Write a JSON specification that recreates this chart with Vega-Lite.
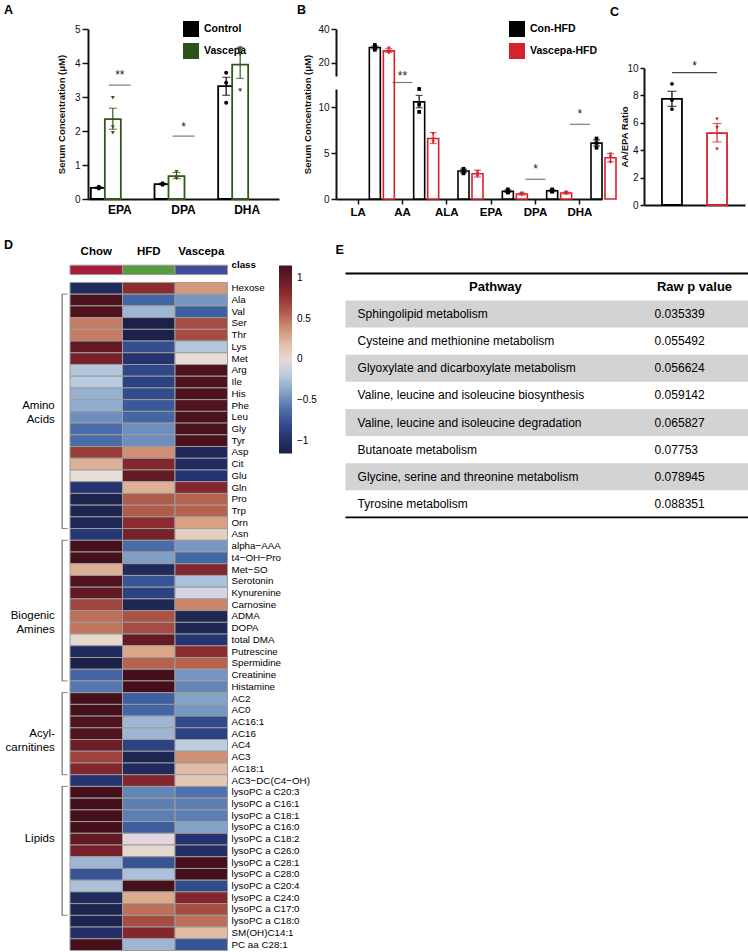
{
  "$schema": "https://vega.github.io/schema/vega-lite/v6.json",
  "padding": {"left": 4, "top": 3, "right": 0, "bottom": 0},
  "config": {
    "font": "Liberation Sans",
    "view": {"stroke": null},
    "axis": {"grid": false, "labelOverlap": false, "labelColor": "#111", "titleColor": "#111", "domainColor": "#111", "tickColor": "#111", "labelFont": "Liberation Sans", "titleFont": "Liberation Sans"},
    "title": {"fontSize": 12.5, "fontWeight": "bold", "anchor": "start", "frame": "group", "color": "#000"},
    "legend": {"labelFont": "Liberation Sans"}
  },
  "datasets": {
    "aBars": [
      {"fa": "EPA", "grp": "Control", "mean": 0.33, "lo": 0.31, "hi": 0.35},
      {"fa": "EPA", "grp": "Vascepa", "mean": 2.35, "lo": 2.05, "hi": 2.67},
      {"fa": "DPA", "grp": "Control", "mean": 0.44, "lo": 0.42, "hi": 0.46},
      {"fa": "DPA", "grp": "Vascepa", "mean": 0.67, "lo": 0.6, "hi": 0.78},
      {"fa": "DHA", "grp": "Control", "mean": 3.32, "lo": 3.05, "hi": 3.58},
      {"fa": "DHA", "grp": "Vascepa", "mean": 3.95, "lo": 3.55, "hi": 4.45}
    ],
    "aPts": [
      {"fa": "EPA", "grp": "Control", "val": 0.36}, {"fa": "EPA", "grp": "Control", "val": 0.34}, {"fa": "EPA", "grp": "Control", "val": 0.31},
      {"fa": "EPA", "grp": "Vascepa", "val": 2.98}, {"fa": "EPA", "grp": "Vascepa", "val": 2.12}, {"fa": "EPA", "grp": "Vascepa", "val": 1.95},
      {"fa": "DPA", "grp": "Control", "val": 0.46}, {"fa": "DPA", "grp": "Control", "val": 0.44}, {"fa": "DPA", "grp": "Control", "val": 0.42},
      {"fa": "DPA", "grp": "Vascepa", "val": 0.8}, {"fa": "DPA", "grp": "Vascepa", "val": 0.63}, {"fa": "DPA", "grp": "Vascepa", "val": 0.6},
      {"fa": "DHA", "grp": "Control", "val": 3.71}, {"fa": "DHA", "grp": "Control", "val": 3.42}, {"fa": "DHA", "grp": "Control", "val": 2.83},
      {"fa": "DHA", "grp": "Vascepa", "val": 4.44}, {"fa": "DHA", "grp": "Vascepa", "val": 4.26}, {"fa": "DHA", "grp": "Vascepa", "val": 3.2}
    ],
    "aSig": [
      {"fa": "EPA", "line": 3.35, "star": 3.75, "label": "**"},
      {"fa": "DPA", "line": 1.85, "star": 2.22, "label": "*"}
    ],
    "bBars": [
      {"fa": "LA", "grp": "Con-HFD", "mean": 29.0, "lo": 28.1, "hi": 29.9},
      {"fa": "LA", "grp": "Vascepa-HFD", "mean": 27.0, "lo": 26.1, "hi": 28.3},
      {"fa": "AA", "grp": "Con-HFD", "mean": 10.6, "lo": 9.95, "hi": 11.3},
      {"fa": "AA", "grp": "Vascepa-HFD", "mean": 6.6, "lo": 6.05, "hi": 7.25},
      {"fa": "ALA", "grp": "Con-HFD", "mean": 3.05, "lo": 2.85, "hi": 3.25},
      {"fa": "ALA", "grp": "Vascepa-HFD", "mean": 2.75, "lo": 2.4, "hi": 3.15},
      {"fa": "EPA", "grp": "Con-HFD", "mean": 0.85, "lo": 0.72, "hi": 1.0},
      {"fa": "EPA", "grp": "Vascepa-HFD", "mean": 0.55, "lo": 0.45, "hi": 0.65},
      {"fa": "DPA", "grp": "Con-HFD", "mean": 0.9, "lo": 0.8, "hi": 1.0},
      {"fa": "DPA", "grp": "Vascepa-HFD", "mean": 0.65, "lo": 0.55, "hi": 0.75},
      {"fa": "DHA", "grp": "Con-HFD", "mean": 6.1, "lo": 5.8, "hi": 6.45},
      {"fa": "DHA", "grp": "Vascepa-HFD", "mean": 4.5, "lo": 4.05, "hi": 4.95}
    ],
    "bPts": [
      {"fa": "LA", "grp": "Con-HFD", "val": 30.5}, {"fa": "LA", "grp": "Con-HFD", "val": 29.0}, {"fa": "LA", "grp": "Con-HFD", "val": 27.6},
      {"fa": "LA", "grp": "Vascepa-HFD", "val": 28.6}, {"fa": "LA", "grp": "Vascepa-HFD", "val": 26.7}, {"fa": "LA", "grp": "Vascepa-HFD", "val": 25.8},
      {"fa": "AA", "grp": "Con-HFD", "val": 12.0}, {"fa": "AA", "grp": "Con-HFD", "val": 10.3}, {"fa": "AA", "grp": "Con-HFD", "val": 9.5},
      {"fa": "AA", "grp": "Vascepa-HFD", "val": 7.1}, {"fa": "AA", "grp": "Vascepa-HFD", "val": 6.5}, {"fa": "AA", "grp": "Vascepa-HFD", "val": 6.2},
      {"fa": "ALA", "grp": "Con-HFD", "val": 3.3}, {"fa": "ALA", "grp": "Con-HFD", "val": 3.05}, {"fa": "ALA", "grp": "Con-HFD", "val": 2.8},
      {"fa": "ALA", "grp": "Vascepa-HFD", "val": 3.0}, {"fa": "ALA", "grp": "Vascepa-HFD", "val": 2.75}, {"fa": "ALA", "grp": "Vascepa-HFD", "val": 2.5},
      {"fa": "EPA", "grp": "Con-HFD", "val": 1.05}, {"fa": "EPA", "grp": "Con-HFD", "val": 0.8}, {"fa": "EPA", "grp": "Con-HFD", "val": 0.7},
      {"fa": "EPA", "grp": "Vascepa-HFD", "val": 0.65}, {"fa": "EPA", "grp": "Vascepa-HFD", "val": 0.55}, {"fa": "EPA", "grp": "Vascepa-HFD", "val": 0.45},
      {"fa": "DPA", "grp": "Con-HFD", "val": 1.05}, {"fa": "DPA", "grp": "Con-HFD", "val": 0.85}, {"fa": "DPA", "grp": "Con-HFD", "val": 0.8},
      {"fa": "DPA", "grp": "Vascepa-HFD", "val": 0.75}, {"fa": "DPA", "grp": "Vascepa-HFD", "val": 0.65}, {"fa": "DPA", "grp": "Vascepa-HFD", "val": 0.55},
      {"fa": "DHA", "grp": "Con-HFD", "val": 6.6}, {"fa": "DHA", "grp": "Con-HFD", "val": 6.1}, {"fa": "DHA", "grp": "Con-HFD", "val": 5.6},
      {"fa": "DHA", "grp": "Vascepa-HFD", "val": 4.9}, {"fa": "DHA", "grp": "Vascepa-HFD", "val": 4.6}, {"fa": "DHA", "grp": "Vascepa-HFD", "val": 4.0}
    ],
    "bSig": [
      {"fa": "AA", "line": 12.005, "star": 13.6, "label": "**"},
      {"fa": "DPA", "line": 2.15, "star": 3.6, "label": "*"},
      {"fa": "DHA", "line": 8.15, "star": 9.6, "label": "*"}
    ],
    "cBars": [
      {"grp": "Con-HFD", "mean": 7.75, "lo": 7.2, "hi": 8.3},
      {"grp": "Vascepa-HFD", "mean": 5.25, "lo": 4.6, "hi": 5.95}
    ],
    "cPts": [
      {"grp": "Con-HFD", "val": 8.85}, {"grp": "Con-HFD", "val": 7.66}, {"grp": "Con-HFD", "val": 7.0},
      {"grp": "Vascepa-HFD", "val": 6.27}, {"grp": "Vascepa-HFD", "val": 5.64}, {"grp": "Vascepa-HFD", "val": 4.08}
    ],
    "heat": [
      {"m": "Hexose", "Chow": -1.05, "HFD": 0.8, "Vascepa": 0.35},
      {"m": "Ala", "Chow": 1.12, "HFD": -0.65, "Vascepa": -0.45},
      {"m": "Val", "Chow": 1.1, "HFD": -0.3, "Vascepa": -0.68},
      {"m": "Ser", "Chow": 0.45, "HFD": -1.15, "Vascepa": 0.65},
      {"m": "Thr", "Chow": 0.45, "HFD": -1.15, "Vascepa": 0.65},
      {"m": "Lys", "Chow": 1.0, "HFD": -0.78, "Vascepa": -0.22},
      {"m": "Met", "Chow": 0.9, "HFD": -0.95, "Vascepa": 0.05},
      {"m": "Arg", "Chow": -0.22, "HFD": -0.82, "Vascepa": 1.1},
      {"m": "Ile", "Chow": -0.2, "HFD": -0.85, "Vascepa": 1.1},
      {"m": "His", "Chow": -0.33, "HFD": -0.8, "Vascepa": 1.1},
      {"m": "Phe", "Chow": -0.35, "HFD": -0.72, "Vascepa": 1.1},
      {"m": "Leu", "Chow": -0.48, "HFD": -0.65, "Vascepa": 1.12},
      {"m": "Gly", "Chow": -0.62, "HFD": -0.48, "Vascepa": 1.12},
      {"m": "Tyr", "Chow": -0.62, "HFD": -0.48, "Vascepa": 1.12},
      {"m": "Asp", "Chow": 0.72, "HFD": 0.38, "Vascepa": -1.08},
      {"m": "Cit", "Chow": 0.25, "HFD": 0.85, "Vascepa": -1.05},
      {"m": "Glu", "Chow": 0.05, "HFD": 1.0, "Vascepa": -0.95},
      {"m": "Gln", "Chow": -0.95, "HFD": 0.25, "Vascepa": 0.85},
      {"m": "Pro", "Chow": -1.12, "HFD": 0.58, "Vascepa": 0.55},
      {"m": "Trp", "Chow": -1.12, "HFD": 0.58, "Vascepa": 0.55},
      {"m": "Orn", "Chow": -1.08, "HFD": 0.8, "Vascepa": 0.32},
      {"m": "Asn", "Chow": -0.92, "HFD": 0.9, "Vascepa": 0.12},
      {"m": "alpha−AAA", "Chow": 1.15, "HFD": -0.62, "Vascepa": -0.45},
      {"m": "t4−OH−Pro", "Chow": 1.15, "HFD": -0.42, "Vascepa": -0.65},
      {"m": "Met−SO", "Chow": 0.25, "HFD": -1.05, "Vascepa": 0.85},
      {"m": "Serotonin", "Chow": 1.1, "HFD": -0.75, "Vascepa": -0.25},
      {"m": "Kynurenine", "Chow": 1.0, "HFD": -0.85, "Vascepa": -0.1},
      {"m": "Carnosine", "Chow": 0.68, "HFD": -1.1, "Vascepa": 0.42},
      {"m": "ADMA", "Chow": 0.5, "HFD": 0.62, "Vascepa": -1.1},
      {"m": "DOPA", "Chow": 0.48, "HFD": 0.65, "Vascepa": -1.1},
      {"m": "total DMA", "Chow": 0.07, "HFD": 1.0, "Vascepa": -0.95},
      {"m": "Putrescine", "Chow": -1.05, "HFD": 0.3, "Vascepa": 0.8},
      {"m": "Spermidine", "Chow": -1.15, "HFD": 0.55, "Vascepa": 0.55},
      {"m": "Creatinine", "Chow": -0.65, "HFD": 1.15, "Vascepa": -0.45},
      {"m": "Histamine", "Chow": -0.58, "HFD": 1.15, "Vascepa": -0.52},
      {"m": "AC2", "Chow": 1.15, "HFD": -0.68, "Vascepa": -0.4},
      {"m": "AC0", "Chow": 1.15, "HFD": -0.65, "Vascepa": -0.45},
      {"m": "AC16:1", "Chow": 1.1, "HFD": -0.3, "Vascepa": -0.8},
      {"m": "AC16", "Chow": 1.1, "HFD": -0.3, "Vascepa": -0.85},
      {"m": "AC4", "Chow": 0.95, "HFD": -0.85, "Vascepa": -0.18},
      {"m": "AC3", "Chow": 0.7, "HFD": -1.1, "Vascepa": 0.38},
      {"m": "AC18:1", "Chow": 0.85, "HFD": -1.05, "Vascepa": 0.2},
      {"m": "AC3−DC(C4−OH)", "Chow": -0.95, "HFD": 0.85, "Vascepa": 0.15},
      {"m": "lysoPC a C20:3", "Chow": 1.15, "HFD": -0.52, "Vascepa": -0.6},
      {"m": "lysoPC a C16:1", "Chow": 1.15, "HFD": -0.55, "Vascepa": -0.55},
      {"m": "lysoPC a C18:1", "Chow": 1.15, "HFD": -0.55, "Vascepa": -0.55},
      {"m": "lysoPC a C16:0", "Chow": 1.15, "HFD": -0.7, "Vascepa": -0.4},
      {"m": "lysoPC a C18:2", "Chow": 1.0, "HFD": -0.05, "Vascepa": -0.95},
      {"m": "lysoPC a C26:0", "Chow": 0.9, "HFD": 0.07, "Vascepa": -1.0},
      {"m": "lysoPC a C28:1", "Chow": -0.3, "HFD": -0.75, "Vascepa": 1.15},
      {"m": "lysoPC a C28:0", "Chow": -0.75, "HFD": -0.25, "Vascepa": 1.15},
      {"m": "lysoPC a C20:4", "Chow": -0.25, "HFD": 1.15, "Vascepa": -0.8},
      {"m": "lysoPC a C24:0", "Chow": -1.05, "HFD": 0.28, "Vascepa": 0.85},
      {"m": "lysoPC a C17:0", "Chow": -1.12, "HFD": 0.5, "Vascepa": 0.65},
      {"m": "lysoPC a C18:0", "Chow": -1.12, "HFD": 0.65, "Vascepa": 0.5},
      {"m": "SM(OH)C14:1", "Chow": -1.0, "HFD": 0.85, "Vascepa": 0.2},
      {"m": "PC aa C28:1", "Chow": 1.15, "HFD": -0.3, "Vascepa": -0.75}
    ],
    "classes": [
      {"m": "class", "g": "Chow"}, {"m": "class", "g": "HFD"}, {"m": "class", "g": "Vascepa"}
    ],
    "brackets": [
      {"name": "Amino\nAcids", "top": "Ala", "bottom": "Orn", "mid": "Phe"},
      {"name": "Biogenic\nAmines", "top": "alpha−AAA", "bottom": "Creatinine", "mid": "ADMA"},
      {"name": "Acyl-\ncarnitines", "top": "AC2", "bottom": "AC18:1", "mid": "AC16"},
      {"name": "Lipids", "top": "lysoPC a C20:3", "bottom": "lysoPC a C17:0", "mid": "lysoPC a C18:2"}
    ],
    "paths": [
      {"pw": "Sphingolipid metabolism", "p": "0.035339"},
      {"pw": "Cysteine and methionine metabolism", "p": "0.055492"},
      {"pw": "Glyoxylate and dicarboxylate metabolism", "p": "0.056624"},
      {"pw": "Valine, leucine and isoleucine biosynthesis", "p": "0.059142"},
      {"pw": "Valine, leucine and isoleucine degradation", "p": "0.065827"},
      {"pw": "Butanoate metabolism", "p": "0.07753"},
      {"pw": "Glycine, serine and threonine metabolism", "p": "0.078945"},
      {"pw": "Tyrosine metabolism", "p": "0.088351"}
    ]
  },
  "vconcat": [
    {
      "hconcat": [
        {
          "width": 206, "height": 170,
          "title": {"text": "A", "dx": -84, "offset": 5},
          "layer": [
            {
              "data": {"name": "aBars"},
              "mark": {"type": "bar", "width": 16, "fill": "white", "strokeWidth": 1.8},
              "encoding": {
                "x": {"field": "fa", "type": "nominal", "title": null, "scale": {"domain": ["EPA", "DPA", "DHA"], "range": [0, 191], "paddingInner": 0, "paddingOuter": 0}, "axis": {"labelAngle": 0, "labelFontWeight": "bold", "labelFontSize": 12, "labelColor": "#000", "ticks": false, "domainWidth": 2, "labelPadding": 5}},
                "xOffset": {"field": "grp", "type": "nominal", "scale": {"domain": ["Control", "Vascepa"], "paddingInner": 0, "paddingOuter": 0.274}},
                "y": {"field": "mean", "type": "quantitative", "scale": {"domain": [0, 5], "nice": false}, "axis": {"values": [0, 1, 2, 3, 4, 5], "tickCount": 20, "format": "d", "labelOverlap": false, "title": "Serum Concentration (μM)", "titleFontSize": 9.5, "titleFontWeight": "bold", "titlePadding": 8, "labelFontSize": 10, "tickSize": 6, "tickWidth": 1.5, "domainWidth": 2, "labelPadding": 2}},
                "stroke": {"field": "grp", "type": "nominal", "scale": {"range": ["#000000", "#2f5a17"]}, "legend": null}
              }
            },
            {
              "data": {"name": "aBars"},
              "mark": {"type": "rule", "strokeWidth": 1.2},
              "encoding": {
                "x": {"field": "fa", "type": "nominal"},
                "xOffset": {"field": "grp", "type": "nominal"},
                "y": {"field": "lo", "type": "quantitative"},
                "y2": {"field": "hi"},
                "stroke": {"field": "grp", "type": "nominal", "legend": null}
              }
            },
            {
              "data": {"name": "aBars"},
              "transform": [{"fold": ["lo", "hi"], "as": ["k", "v"]}],
              "mark": {"type": "tick", "orient": "horizontal", "size": 8, "thickness": 1.2},
              "encoding": {
                "x": {"field": "fa", "type": "nominal"},
                "xOffset": {"field": "grp", "type": "nominal"},
                "y": {"field": "v", "type": "quantitative"},
                "color": {"field": "grp", "type": "nominal", "scale": {"domain": ["Control", "Vascepa"], "range": ["#000000", "#2b5218"]},
                  "legend": {"orient": "none", "legendX": 95, "legendY": -8, "title": null, "symbolType": "square", "symbolSize": 256, "symbolStrokeWidth": 0, "symbolOpacity": 1, "labelFontSize": 10.5, "labelFontWeight": "bold", "labelColor": "#000", "rowPadding": 6, "labelOffset": 5, "padding": 0}}
              }
            },
            {
              "data": {"name": "aPts"},
              "mark": {"type": "point", "filled": true, "size": 16, "opacity": 1},
              "encoding": {
                "x": {"field": "fa", "type": "nominal"},
                "xOffset": {"field": "grp", "type": "nominal"},
                "y": {"field": "val", "type": "quantitative"},
                "shape": {"field": "grp", "type": "nominal", "scale": {"range": ["circle", "triangle-down"]}, "legend": null},
                "fill": {"field": "grp", "type": "nominal", "scale": {"range": ["#000000", "#2f5a17"]}, "legend": null}
              }
            },
            {
              "data": {"name": "aSig"},
              "mark": {"type": "tick", "orient": "horizontal", "size": 22, "thickness": 1.2, "color": "#444"},
              "encoding": {"x": {"field": "fa", "type": "nominal"}, "y": {"field": "line", "type": "quantitative"}}
            },
            {
              "data": {"name": "aSig"},
              "mark": {"type": "text", "fontSize": 12, "color": "#222", "baseline": "middle", "dy": 3},
              "encoding": {"x": {"field": "fa", "type": "nominal"}, "y": {"field": "star", "type": "quantitative"}, "text": {"field": "label"}}
            }
          ]
        },
        {
          "width": 266, "height": 170,
          "title": {"text": "B", "dx": -39, "offset": 5},
          "layer": [
            {
              "data": {"name": "bBars"},
              "mark": {"type": "bar", "width": 11, "fill": "white", "strokeWidth": 1.6},
              "encoding": {
                "x": {"field": "fa", "type": "nominal", "title": null, "scale": {"domain": ["LA", "AA", "ALA", "EPA", "DPA", "DHA"], "paddingInner": 0, "paddingOuter": 0}, "axis": {"labelAngle": 0, "labelFontWeight": "bold", "labelFontSize": 11.5, "labelColor": "#000", "ticks": true, "tickSize": 5, "tickWidth": 1.5, "domainWidth": 2, "labelPadding": 2}},
                "xOffset": {"field": "grp", "type": "nominal", "scale": {"domain": ["Con-HFD", "Vascepa-HFD"], "paddingInner": 0, "paddingOuter": 0.385}},
                "y": {"field": "mean", "type": "quantitative", "scale": {"domain": [0, 12, 12.01, 40], "range": [170, 60, 47, 0], "nice": false, "zero": false}, "axis": {"values": [0, 5, 10, 20, 40], "tickCount": 20, "format": "d", "labelOverlap": false, "title": "Serum Concentration (μM)", "titleFontSize": 9.5, "titleFontWeight": "bold", "titlePadding": 5, "labelFontSize": 10, "tickSize": 5, "tickWidth": 1.5, "domainWidth": 2, "labelPadding": 2, "domainDash": [110, 13, 60]}},
                "stroke": {"field": "grp", "type": "nominal", "scale": {"range": ["#000000", "#d7222b"]}, "legend": null}
              }
            },
            {
              "data": {"name": "bBars"},
              "mark": {"type": "rule", "strokeWidth": 1.2},
              "encoding": {
                "x": {"field": "fa", "type": "nominal"},
                "xOffset": {"field": "grp", "type": "nominal"},
                "y": {"field": "lo", "type": "quantitative"},
                "y2": {"field": "hi"},
                "stroke": {"field": "grp", "type": "nominal", "legend": null}
              }
            },
            {
              "data": {"name": "bBars"},
              "transform": [{"fold": ["lo", "hi"], "as": ["k", "v"]}],
              "mark": {"type": "tick", "orient": "horizontal", "size": 7, "thickness": 1.2},
              "encoding": {
                "x": {"field": "fa", "type": "nominal"},
                "xOffset": {"field": "grp", "type": "nominal"},
                "y": {"field": "v", "type": "quantitative"},
                "color": {"field": "grp", "type": "nominal", "scale": {"domain": ["Con-HFD", "Vascepa-HFD"], "range": ["#000000", "#d7222b"]},
                  "legend": {"orient": "none", "legendX": 173, "legendY": -8, "title": null, "symbolType": "square", "symbolSize": 256, "symbolStrokeWidth": 0, "symbolOpacity": 1, "labelFontSize": 10.5, "labelFontWeight": "bold", "labelColor": "#000", "rowPadding": 6, "labelOffset": 5, "padding": 0}}
              }
            },
            {
              "data": {"name": "bPts"},
              "mark": {"type": "point", "filled": true, "size": 14, "opacity": 1},
              "encoding": {
                "x": {"field": "fa", "type": "nominal"},
                "xOffset": {"field": "grp", "type": "nominal"},
                "y": {"field": "val", "type": "quantitative"},
                "shape": {"field": "grp", "type": "nominal", "scale": {"range": ["square", "triangle-down"]}, "legend": null},
                "fill": {"field": "grp", "type": "nominal", "scale": {"range": ["#000000", "#d7222b"]}, "legend": null}
              }
            },
            {
              "data": {"name": "bSig"},
              "mark": {"type": "tick", "orient": "horizontal", "size": 20, "thickness": 1.2, "color": "#444"},
              "encoding": {"x": {"field": "fa", "type": "nominal"}, "y": {"field": "line", "type": "quantitative"}}
            },
            {
              "data": {"name": "bSig"},
              "mark": {"type": "text", "fontSize": 12, "color": "#222", "baseline": "middle", "dy": 3},
              "encoding": {"x": {"field": "fa", "type": "nominal"}, "y": {"field": "star", "type": "quantitative"}, "text": {"field": "label"}}
            }
          ]
        },
        {
          "width": 101, "height": 176,
          "title": {"text": "C", "dx": -34, "offset": 11},
          "layer": [
            {
              "data": {"name": "cBars"},
              "mark": {"type": "bar", "width": 20, "fill": "white", "strokeWidth": 1.8},
              "encoding": {
                "x": {"field": "grp", "type": "nominal", "title": null, "scale": {"domain": ["Con-HFD", "Vascepa-HFD"], "paddingInner": 0, "paddingOuter": 0.12}, "axis": {"labels": false, "ticks": false, "domainWidth": 2}},
                "y": {"field": "mean", "type": "quantitative", "scale": {"domain": [0, 10], "range": [176, 39], "nice": false}, "axis": {"values": [0, 2, 4, 6, 8, 10], "tickCount": 20, "format": "d", "labelOverlap": false, "title": "AA/EPA Ratio", "titleX": -15, "titleFontSize": 9.5, "titleFontWeight": "bold", "titlePadding": 5, "labelFontSize": 10, "tickSize": 4, "tickWidth": 1.5, "domainWidth": 2, "labelPadding": 2}},
                "stroke": {"field": "grp", "type": "nominal", "scale": {"range": ["#000000", "#d7222b"]}, "legend": null}
              }
            },
            {
              "data": {"name": "cBars"},
              "mark": {"type": "rule", "strokeWidth": 1.2},
              "encoding": {
                "x": {"field": "grp", "type": "nominal"},
                "y": {"field": "lo", "type": "quantitative"},
                "y2": {"field": "hi"},
                "stroke": {"field": "grp", "type": "nominal", "legend": null}
              }
            },
            {
              "data": {"name": "cBars"},
              "transform": [{"fold": ["lo", "hi"], "as": ["k", "v"]}],
              "mark": {"type": "tick", "orient": "horizontal", "size": 9, "thickness": 1.2},
              "encoding": {
                "x": {"field": "grp", "type": "nominal"},
                "y": {"field": "v", "type": "quantitative"},
                "color": {"field": "grp", "type": "nominal", "scale": {"range": ["#000000", "#d7222b"]}, "legend": null}
              }
            },
            {
              "data": {"name": "cPts"},
              "mark": {"type": "point", "filled": true, "size": 14, "opacity": 1},
              "encoding": {
                "x": {"field": "grp", "type": "nominal"},
                "y": {"field": "val", "type": "quantitative"},
                "shape": {"field": "grp", "type": "nominal", "scale": {"range": ["circle", "triangle-down"]}, "legend": null},
                "fill": {"field": "grp", "type": "nominal", "scale": {"range": ["#000000", "#d7222b"]}, "legend": null}
              }
            },
            {
              "data": {"values": [{"label": "*"}]},
              "mark": {"type": "rule", "strokeWidth": 1.2, "color": "#444"},
              "encoding": {"x": {"datum": "Con-HFD"}, "x2": {"datum": "Vascepa-HFD"}, "y": {"datum": 9.66}}
            },
            {
              "data": {"values": [{"label": "*"}]},
              "mark": {"type": "text", "fontSize": 12, "color": "#222", "baseline": "middle", "dy": 3},
              "encoding": {"x": {"datum": "Con-HFD", "bandPosition": 1}, "y": {"datum": 10.4}, "text": {"field": "label"}}
            }
          ]
        }
      ],
      "spacing": 42,
      "bounds": "flush",
      "resolve": {"scale": {"color": "independent", "fill": "independent", "stroke": "independent", "shape": "independent"}, "legend": {"fill": "independent", "color": "independent", "stroke": "independent", "shape": "independent"}}
    },
    {
      "hconcat": [
        {
          "width": 139.5, "height": 691.5,
          "title": {"text": "D", "dx": -84, "offset": -6},
          "resolve": {"scale": {"fill": "independent"}},
          "layer": [
            {
              "data": {"name": "classes"},
              "mark": {"type": "rect", "height": {"band": 0.8}, "yOffset": 5, "stroke": "#9c9c9c", "strokeWidth": 1},
              "encoding": {
                "x": {"field": "g", "type": "nominal", "title": null, "scale": {"domain": ["grp", "Chow", "HFD", "Vascepa"], "range": [-70.5, 139.5], "paddingInner": 0, "paddingOuter": 0}, "axis": {"orient": "top", "labelExpr": "datum.value == 'grp' ? '' : datum.value", "ticks": false, "domain": false, "labelFontWeight": "bold", "labelFontSize": 11.5, "labelColor": "#000", "labelPadding": 3, "labelAngle": 0}},
                "y": {"field": "m", "type": "nominal", "title": null, "scale": {"domain": ["class", " ", "Hexose", "Ala", "Val", "Ser", "Thr", "Lys", "Met", "Arg", "Ile", "His", "Phe", "Leu", "Gly", "Tyr", "Asp", "Cit", "Glu", "Gln", "Pro", "Trp", "Orn", "Asn", "alpha−AAA", "t4−OH−Pro", "Met−SO", "Serotonin", "Kynurenine", "Carnosine", "ADMA", "DOPA", "total DMA", "Putrescine", "Spermidine", "Creatinine", "Histamine", "AC2", "AC0", "AC16:1", "AC16", "AC4", "AC3", "AC18:1", "AC3−DC(C4−OH)", "lysoPC a C20:3", "lysoPC a C16:1", "lysoPC a C18:1", "lysoPC a C16:0", "lysoPC a C18:2", "lysoPC a C26:0", "lysoPC a C28:1", "lysoPC a C28:0", "lysoPC a C20:4", "lysoPC a C24:0", "lysoPC a C17:0", "lysoPC a C18:0", "SM(OH)C14:1", "PC aa C28:1"], "paddingInner": 0, "paddingOuter": 0},
                  "axis": {"orient": "right", "ticks": false, "domain": false, "labelPadding": 3.5, "labelFontSize": 9.8, "labelColor": "#000", "labelFontWeight": {"condition": {"test": "datum.value == 'class'", "value": "bold"}, "value": "normal"}}},
                "fill": {"field": "g", "type": "nominal", "scale": {"domain": ["Chow", "HFD", "Vascepa"], "range": ["#a51f3d", "#579a3f", "#3f4b9b"]}, "legend": null}
              }
            },
            {
              "data": {"name": "heat"},
              "transform": [{"fold": ["Chow", "HFD", "Vascepa"], "as": ["g", "v"]}],
              "mark": {"type": "rect", "stroke": "#9c9c9c", "strokeWidth": 1},
              "encoding": {
                "x": {"field": "g", "type": "nominal", "title": null},
                "y": {"field": "m", "type": "nominal", "title": null},
                "fill": {"field": "v", "type": "quantitative",
                  "scale": {"domain": [-1.15, -0.9, -0.65, -0.4, -0.15, 0.05, 0.3, 0.55, 0.8, 1.15], "range": ["#1b2149", "#27397a", "#4366a5", "#84a3c8", "#c5d4e4", "#e6ddd6", "#dba688", "#b5624f", "#8c2b30", "#45101b"]},
                  "legend": {"orient": "none", "legendX": 191, "legendY": 6.4, "title": null, "direction": "vertical", "gradientLength": 188, "gradientThickness": 13, "gradientStrokeWidth": 0, "values": [-1, -0.5, 0, 0.5, 1], "format": ".1~f", "labelFontSize": 10, "labelColor": "#000", "labelOffset": 5, "padding": 0}}
              }
            },
            {
              "data": {"name": "brackets"},
              "mark": {"type": "rule", "color": "#555", "strokeWidth": 1},
              "encoding": {
                "x": {"datum": "grp", "bandPosition": 0.85},
                "y": {"field": "top", "type": "nominal", "bandPosition": 0},
                "y2": {"field": "bottom", "bandPosition": 1}
              }
            },
            {
              "data": {"name": "brackets"},
              "mark": {"type": "tick", "orient": "horizontal", "size": 6, "thickness": 1, "color": "#555", "xOffset": 21},
              "encoding": {
                "x": {"datum": "grp"},
                "y": {"field": "top", "type": "nominal", "bandPosition": 0}
              }
            },
            {
              "data": {"name": "brackets"},
              "mark": {"type": "tick", "orient": "horizontal", "size": 6, "thickness": 1, "color": "#555", "xOffset": 21},
              "encoding": {
                "x": {"datum": "grp"},
                "y": {"field": "bottom", "type": "nominal", "bandPosition": 1}
              }
            },
            {
              "data": {"name": "brackets"},
              "mark": {"type": "text", "align": "right", "baseline": "middle", "lineBreak": "\n", "lineHeight": 14, "fontSize": 11.5, "color": "#000"},
              "encoding": {
                "x": {"datum": "grp", "bandPosition": 0.71},
                "y": {"field": "mid", "type": "nominal"},
                "text": {"field": "name"}
              }
            }
          ]
        },
        {
          "width": 403, "height": 259,
          "title": {"text": "E", "dx": -10, "offset": 3},
          "layer": [
            {
              "data": {"name": "paths"},
              "transform": [{"window": [{"op": "row_number", "as": "r"}]}, {"filter": "datum.r % 2 == 1"}],
              "mark": {"type": "rect", "color": "#d3d3d3"},
              "encoding": {
                "x": {"datum": 0, "type": "quantitative", "scale": {"domain": [0, 1], "nice": false, "zero": false}, "axis": null},
                "x2": {"datum": 1},
                "y": {"field": "pw", "type": "nominal", "scale": {"domain": ["Pathway", "Sphingolipid metabolism", "Cysteine and methionine metabolism", "Glyoxylate and dicarboxylate metabolism", "Valine, leucine and isoleucine biosynthesis", "Valine, leucine and isoleucine degradation", "Butanoate metabolism", "Glycine, serine and threonine metabolism", "Tyrosine metabolism"], "range": [14.4, 258.4], "paddingInner": 0, "paddingOuter": 0}, "axis": null}
              }
            },
            {
              "data": {"values": [{"pw": "Pathway"}]},
              "mark": {"type": "rule", "strokeWidth": 2, "color": "#000"},
              "encoding": {"x": {"datum": 0, "type": "quantitative"}, "x2": {"datum": 1}, "y": {"field": "pw", "type": "nominal", "bandPosition": 0}}
            },
            {
              "data": {"values": [{"pw": "Tyrosine metabolism"}]},
              "mark": {"type": "rule", "strokeWidth": 1.8, "color": "#000"},
              "encoding": {"x": {"datum": 0, "type": "quantitative"}, "x2": {"datum": 1}, "y": {"field": "pw", "type": "nominal", "bandPosition": 1}}
            },
            {
              "data": {"values": [{"pw": "Pathway", "h": "Pathway"}]},
              "mark": {"type": "text", "align": "center", "baseline": "middle", "fontSize": 13, "fontWeight": "bold", "color": "#000"},
              "encoding": {"x": {"datum": 0.372, "type": "quantitative"}, "y": {"field": "pw", "type": "nominal"}, "text": {"field": "h"}}
            },
            {
              "data": {"values": [{"pw": "Pathway", "h": "Raw p value"}]},
              "mark": {"type": "text", "align": "center", "baseline": "middle", "fontSize": 13, "fontWeight": "bold", "color": "#000"},
              "encoding": {"x": {"datum": 0.866, "type": "quantitative"}, "y": {"field": "pw", "type": "nominal"}, "text": {"field": "h"}}
            },
            {
              "data": {"name": "paths"},
              "mark": {"type": "text", "align": "left", "baseline": "middle", "fontSize": 12, "color": "#000"},
              "encoding": {"x": {"datum": 0.03, "type": "quantitative"}, "y": {"field": "pw", "type": "nominal"}, "text": {"field": "pw"}}
            },
            {
              "data": {"name": "paths"},
              "mark": {"type": "text", "align": "left", "baseline": "middle", "fontSize": 12, "color": "#000"},
              "encoding": {"x": {"datum": 0.767, "type": "quantitative"}, "y": {"field": "pw", "type": "nominal"}, "text": {"field": "p"}}
            }
          ]
        }
      ],
      "spacing": 117.5,
      "bounds": "flush"
    }
  ],
  "spacing": 20,
  "align": "none",
  "resolve": {"scale": {"color": "independent", "fill": "independent", "stroke": "independent", "shape": "independent"}, "legend": {"fill": "independent", "color": "independent", "stroke": "independent", "shape": "independent"}}
}
